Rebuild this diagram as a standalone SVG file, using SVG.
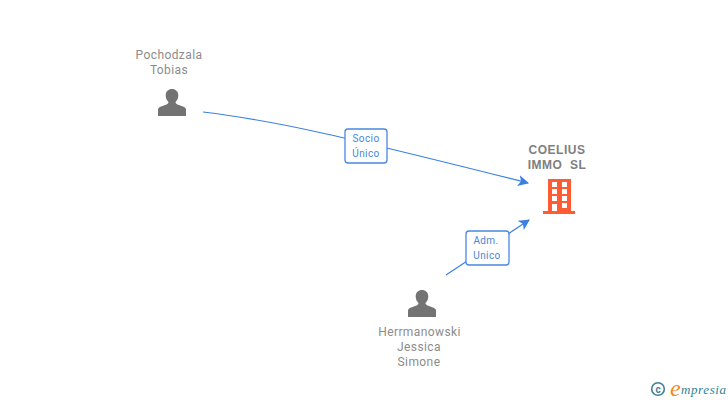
<svg xmlns="http://www.w3.org/2000/svg" width="728" height="400" viewBox="0 0 728 400">
<style>
text{font-family:Roboto,"Liberation Sans",sans-serif}
.n{font-size:12px;fill:#8c8c8c;text-anchor:middle;letter-spacing:.4px}
.c{font-size:12px;fill:#808080;text-anchor:middle;font-weight:700;font-family:"Liberation Sans",sans-serif;letter-spacing:.5px}
.l{font-size:10px;fill:#4a86d8;text-anchor:middle;letter-spacing:.4px}
.e{fill:none;stroke:#3b80e0;stroke-width:1.200}
.b{fill:#fff;stroke:#4a88e0;stroke-width:1.300}
.p{fill:#737373}
.o{fill:#ff5c33}
</style>
<defs>
<marker id="a" viewBox="0 0 10 10" refX="9" refY="5" markerWidth="11" markerHeight="11" markerUnits="userSpaceOnUse" orient="auto"><path d="M0 0L10 5L0 10L2.500 5Z" fill="#3b80e0"/></marker>
<path id="person" d="M-6.300-14.500C-6.300-18.800-3.500-21 0-21C3.500-21 6.300-18.800 6.300-14.500C6.300-11.500 5-9.300 3.500-8C3.500-6.500 4.500-5.800 7-5C10.500-3.800 13.500-2.800 14-1V6H-14V-1C-13.500-2.800-10.500-3.800-7-5C-4.500-5.800-3.500-6.500-3.500-8C-5-9.300-6.300-11.500-6.300-14.500Z"/>
</defs>
<g id="connectors">
<path class="e" d="M203 112C270 120 330 133 528 183" marker-end="url(#a)"/>
<path class="e" d="M446 275L529 220" marker-end="url(#a)"/>
</g>
<g id="edge-label-1"><rect class="b" x="345" y="129" width="42" height="34" rx="3"/><text class="l" x="366" y="142">Socio</text><text class="l" x="366" y="157">Único</text></g>
<g id="edge-label-2"><rect class="b" x="466" y="231" width="43" height="34" rx="3"/><text class="l" x="486" y="244">Adm.</text><text class="l" x="487" y="259">Unico</text></g>
<g id="node-pochodzala"><text class="n" x="169" y="59">Pochodzala</text><text class="n" x="169" y="74">Tobias</text><use href="#person" class="p" x="172" y="110"/></g>
<g id="node-herrmanowski"><text class="n" x="419.500" y="336">Herrmanowski</text><text class="n" x="419" y="351">Jessica</text><text class="n" x="419" y="366">Simone</text><use href="#person" class="p" x="422" y="311"/></g>
<g id="node-coelius"><text class="c" x="557" y="154">COELIUS</text><text class="c" x="557" y="169" xml:space="preserve">IMMO  SL</text>
<path class="o" fill-rule="evenodd" d="M548 179H571V211H575V214H543V211H548ZM552 182V187H557V182ZM562 182V187H567V182ZM552 189V194H557V189ZM562 189V194H567V189ZM552 196V201H557V196ZM562 196V201H567V196ZM552 204V211H557V204ZM562 203V208H567V203Z"/></g>
<g id="logo"><circle cx="658" cy="389" r="6.300" fill="none" stroke="#3f7f95" stroke-width="1.600"/><text x="658" y="392.500" font-size="10" font-weight="700" fill="#3f7f95" text-anchor="middle">c</text><text x="670" y="396" font-size="24" font-style="italic" fill="#f08a1d" style="font-family:'Liberation Serif',serif">e</text><text x="681" y="394" font-size="13" font-style="italic" fill="#2f7f95" style="font-family:'Liberation Serif',serif;letter-spacing:.6px">mpresia</text></g>
</svg>
